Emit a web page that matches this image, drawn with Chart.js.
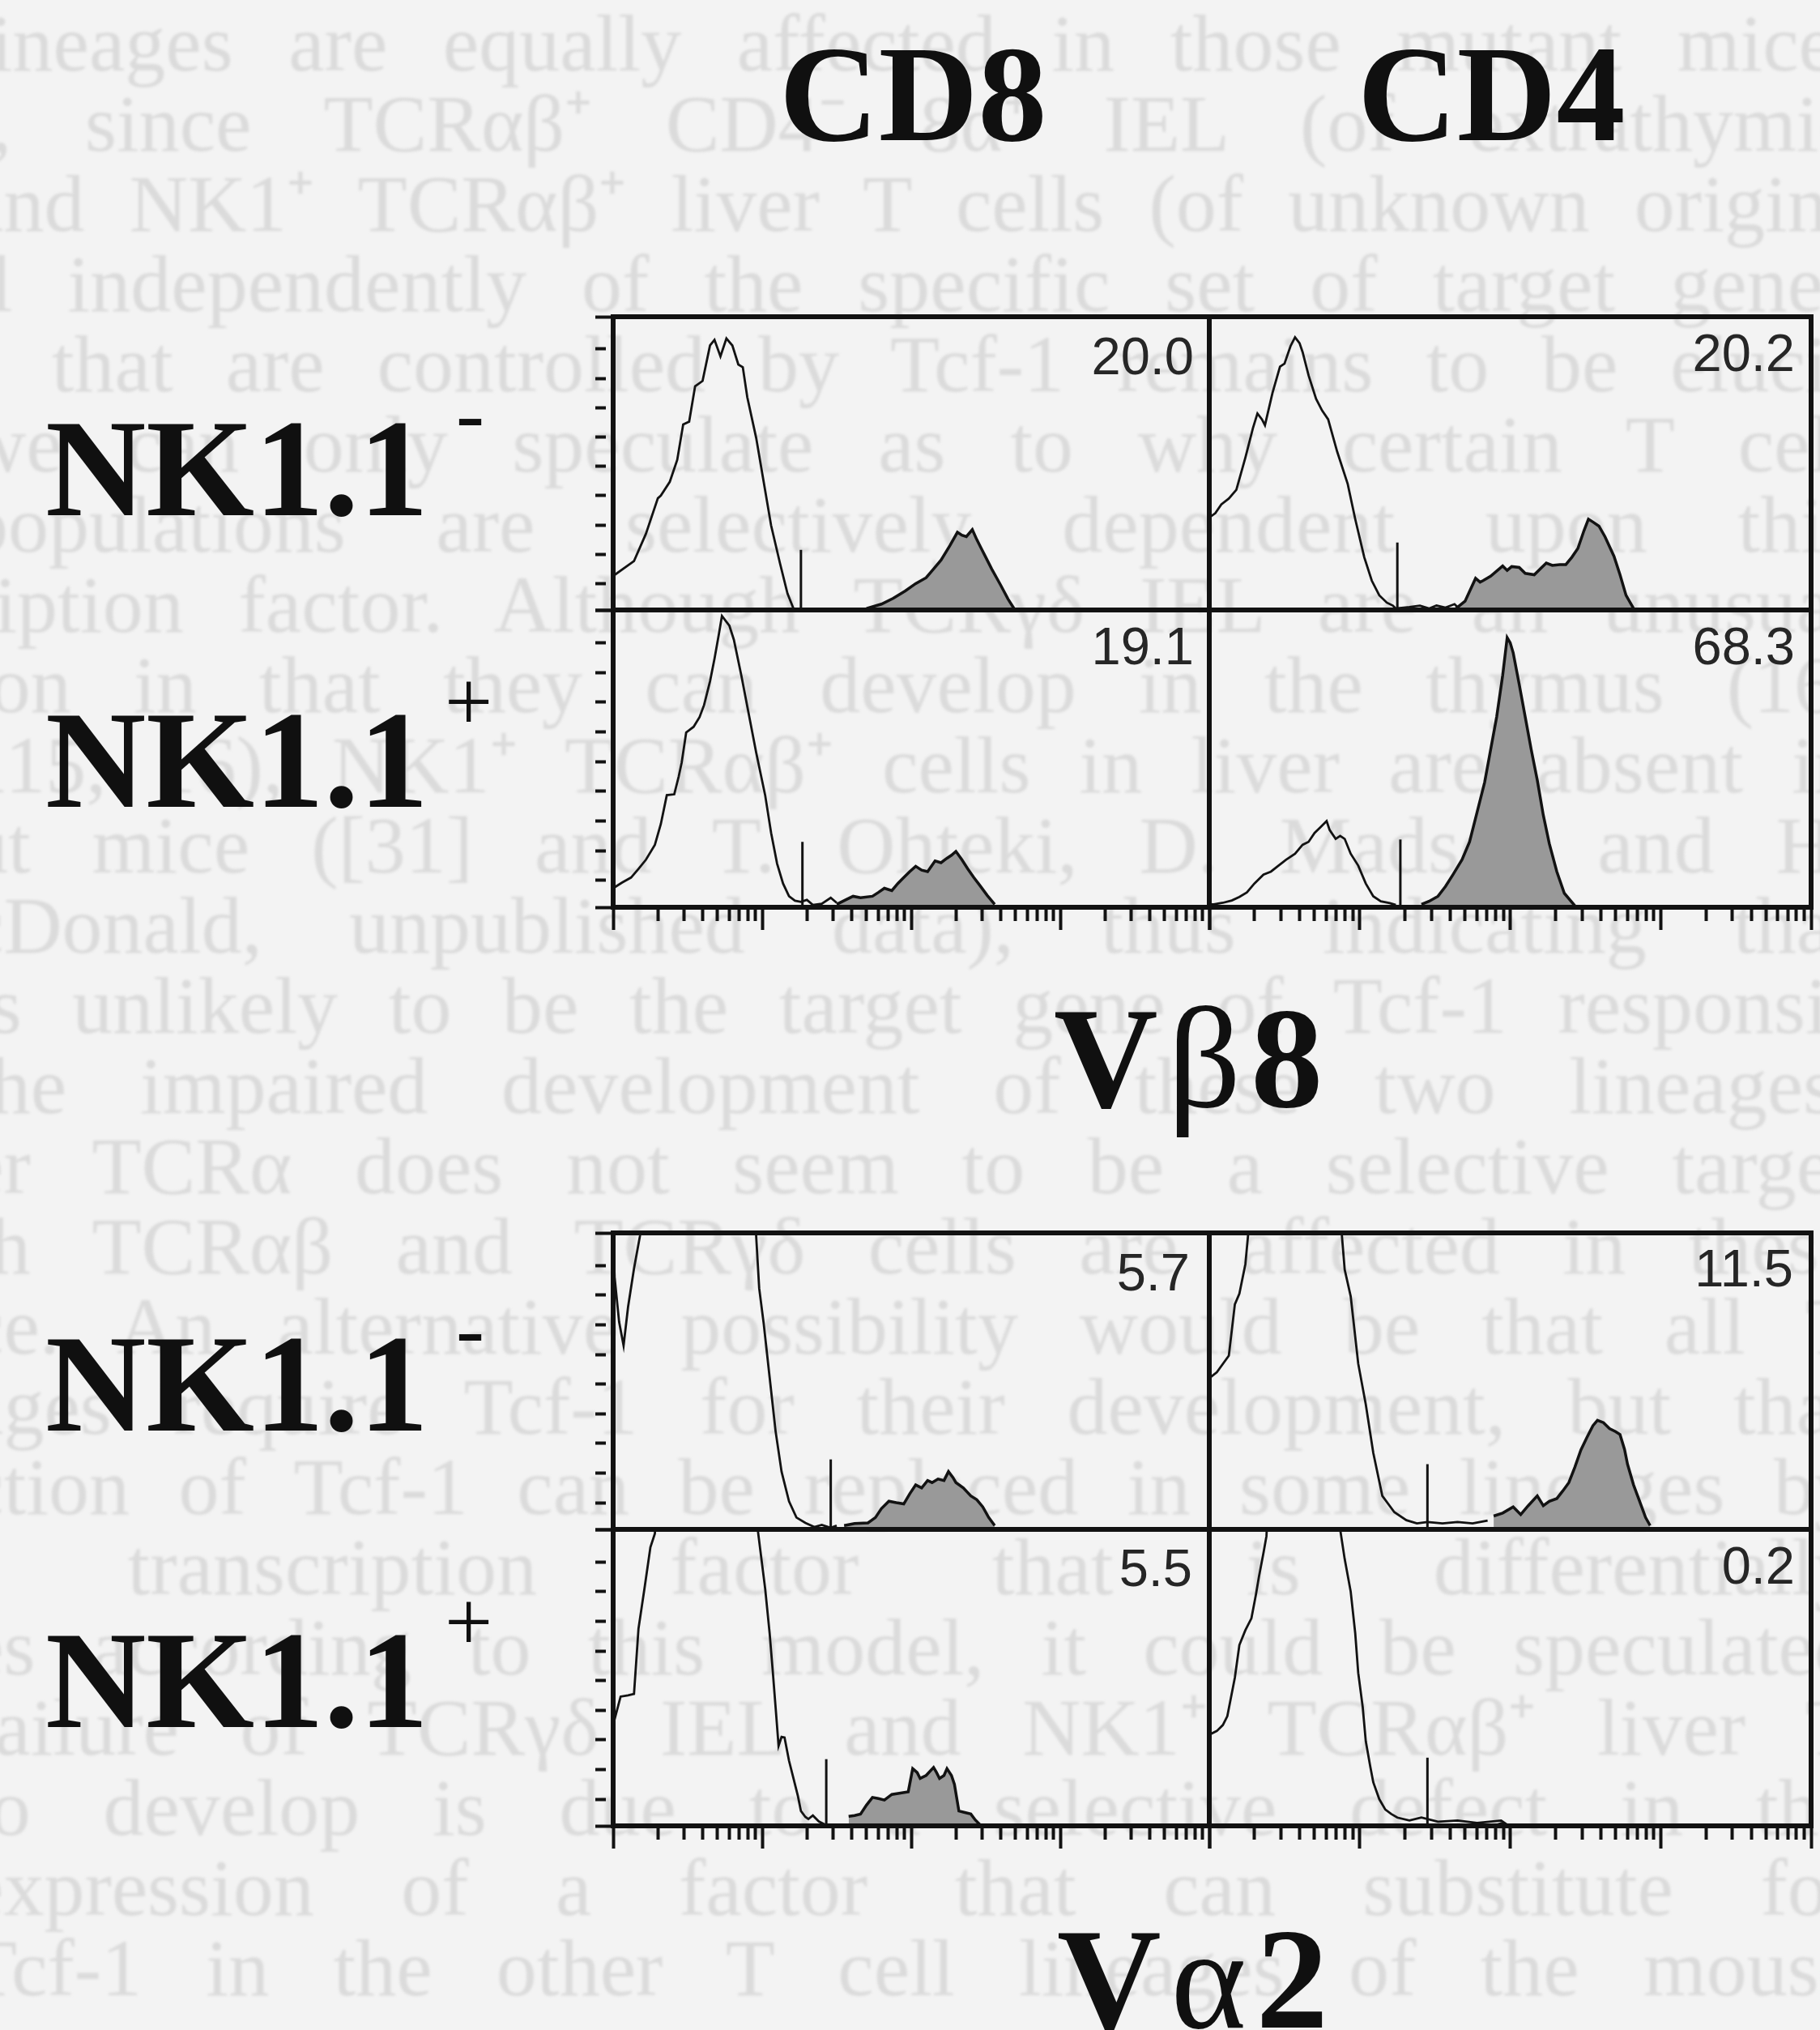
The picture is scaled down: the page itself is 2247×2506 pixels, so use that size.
<!DOCTYPE html>
<html>
<head>
<meta charset="utf-8">
<script src="https://cdn.jsdelivr.net/npm/chart.js@4.4.1/dist/chart.umd.min.js"></script>
<style>
html, body { margin: 0; padding: 0; background: #f3f3f3; }
#page { position: relative; width: 2247px; height: 2506px; overflow: hidden; background: #f3f3f3; }
#bleed { position: absolute; left: -40px; top: 4px; width: 2330px; font-family: "Liberation Serif", serif;
         font-size: 100px; line-height: 99px; color: #dbdbdb; filter: blur(1.5px); }
#bleed div { white-space: nowrap; text-align: justify; text-align-last: justify; }
canvas { position: absolute; }
.lab { position: absolute; font-family: "Liberation Serif", serif; font-weight: bold; color: #101010; white-space: nowrap; line-height: 1; }
.sup { font-weight: normal; position: relative; font-size: 105px; }
.val { position: absolute; font-family: "Liberation Sans", Arial, sans-serif; font-size: 65px; line-height: 1; color: #262626; }
</style>
</head>
<body>
<div id="page">
  <div id="bleed">
    <div>lineages are equally affected in those mutant mice.</div>
    <div>r, since TCRαβ⁺ CD4⁻ 8α⁺ IEL (of extrathymic</div>
    <div>and NK1⁺ TCRαβ⁺ liver T cells (of unknown origin)</div>
    <div>ll independently of the specific set of target genes</div>
    <div>s that are controlled by Tcf-1 remains to be eluci-</div>
    <div>we can only speculate as to why certain T cell</div>
    <div>populations are selectively dependent upon this</div>
    <div>ription factor. Although TCRγδ IEL are an unusual</div>
    <div>ion in that they can develop in the thymus (16,</div>
    <div>115, 16), NK1⁺ TCRαβ⁺ cells in liver are absent in</div>
    <div>ut mice ([31] and T. Ohteki, D. Madsen and H.</div>
    <div>cDonald, unpublished data), thus indicating that</div>
    <div>is unlikely to be the target gene of Tcf-1 responsi-</div>
    <div>the impaired development of these two lineages.</div>
    <div>er TCRα does not seem to be a selective target</div>
    <div>th TCRαβ and TCRγδ cells are affected in these</div>
    <div>ce. An alternative possibility would be that all T</div>
    <div>ages require Tcf-1 for their development, but that</div>
    <div>ction of Tcf-1 can be replaced in some lineages by</div>
    <div>r transcription factor that is differentially</div>
    <div>es according to this model, it could be speculated</div>
    <div>failure of TCRγδ IEL and NK1⁺ TCRαβ⁺ liver T</div>
    <div>to develop is due to a selective defect in the</div>
    <div>expression of a factor that can substitute for</div>
    <div>Tcf-1 in the other T cell lineages of the mouse</div>
  </div>

  <div class="lab" style="left:962px;top:31px;font-size:170px;">CD8</div>
  <div class="lab" style="left:1676px;top:31px;font-size:170px;">CD4</div>

  <div class="lab" style="left:56px;top:492px;font-size:172px;">NK1.1<span class="sup" style="top:-90px;margin-left:34px;">-</span></div>
  <div class="lab" style="left:56px;top:852px;font-size:172px;">NK1.1<span class="sup" style="top:-94px;margin-left:20px;">+</span></div>
  <div class="lab" style="left:56px;top:1622px;font-size:172px;">NK1.1<span class="sup" style="top:-90px;margin-left:34px;">-</span></div>
  <div class="lab" style="left:56px;top:1988px;font-size:172px;">NK1.1<span class="sup" style="top:-94px;margin-left:20px;">+</span></div>

  <div class="lab" style="left:1301px;top:1217px;font-size:178px;letter-spacing:12px;">V<span style="font-weight:normal">β</span>8</div>
  <div class="lab" style="left:1305px;top:2354px;font-size:178px;letter-spacing:12px;">V<span style="font-weight:normal">α</span>2</div>

  <div class="val" style="right:773px;top:407px;">20.0</div>
  <div class="val" style="right:31px;top:403px;">20.2</div>
  <div class="val" style="right:773px;top:765px;">19.1</div>
  <div class="val" style="right:31px;top:765px;">68.3</div>
  <div class="val" style="right:778px;top:1538px;">5.7</div>
  <div class="val" style="right:33px;top:1533px;">11.5</div>
  <div class="val" style="right:775px;top:1903px;">5.5</div>
  <div class="val" style="right:31px;top:1900px;">0.2</div>
</div>

<script>
// x = log10 fluorescence (decades 0..4), y = % of panel height (values above 100 run off scale)

// V beta 8, CD8 gate, NK1.1-
const vb8Cd8NegOpen = [[0,11.6],[0.14,16.7],[0.22,26],[0.30,38.1],[0.32,39],[0.38,43.7],[0.43,51.2],[0.47,63.3],[0.51,64.2],[0.55,76.3],[0.60,78.1],[0.65,90.2],[0.68,92.1],[0.72,86.5],[0.76,92.6],[0.80,90.2],[0.84,83.7],[0.87,82.8],[0.90,72.6],[0.96,58.6],[1.01,43.7],[1.06,28.8],[1.12,15.8],[1.17,5.6],[1.21,0.5]];
const vb8Cd8NegFilled = [[1.70,0.5],[1.80,2],[1.88,4],[1.96,6.5],[2.03,9],[2.10,11],[2.15,14],[2.20,17],[2.26,22],[2.31,26.5],[2.34,25.5],[2.37,25],[2.41,27.4],[2.44,24],[2.47,21],[2.50,18],[2.54,14],[2.60,8.5],[2.65,3.7],[2.69,0.5]];
const vb8Cd8NegGate = [1.26, 20.5];

// V beta 8, CD4 gate, NK1.1-
const vb8Cd4NegOpen = [[0,31.5],[0.04,33],[0.08,36],[0.13,38],[0.18,41],[0.24,52],[0.29,62],[0.32,67],[0.35,65],[0.37,63],[0.42,74],[0.47,83],[0.50,84],[0.54,90],[0.57,93],[0.60,91],[0.62,88],[0.66,80],[0.71,72],[0.75,68],[0.79,65],[0.85,54],[0.92,43],[0.97,31],[1.03,18],[1.08,10],[1.13,5],[1.18,2.5],[1.22,1.5],[1.24,0.5],[1.33,1],[1.40,1.5],[1.46,0.5],[1.51,1.5],[1.57,0.8],[1.63,2],[1.66,0.5]];
const vb8Cd4NegFilled = [[1.64,0.5],[1.70,3],[1.77,10.8],[1.80,9.5],[1.82,10],[1.87,11.5],[1.95,15],[1.98,13.5],[2.01,14.8],[2.06,14.5],[2.10,12.5],[2.16,12],[2.20,14],[2.24,16],[2.28,15.2],[2.33,15.5],[2.37,15.5],[2.41,18],[2.45,21],[2.49,27],[2.52,31],[2.55,30],[2.59,28.6],[2.63,25],[2.69,18.3],[2.73,12],[2.77,5],[2.82,0.5]];
const vb8Cd4NegGate = [1.25, 23];

// V beta 8, CD8 gate, NK1.1+
const vb8Cd8PosOpen = [[0,6.4],[0.06,8.3],[0.12,10],[0.17,12.9],[0.22,16],[0.28,21],[0.32,28],[0.36,37.7],[0.41,38],[0.44,44],[0.46,48.7],[0.49,58.8],[0.54,60.7],[0.58,64],[0.61,68],[0.65,76],[0.68,83.6],[0.71,92],[0.73,98],[0.76,96],[0.78,94.7],[0.81,90],[0.86,78],[0.91,65],[0.96,52],[1.02,37.7],[1.06,25],[1.10,14.7],[1.14,8],[1.18,3.7],[1.22,2.2],[1.26,1.8],[1.30,2.5],[1.34,0.8],[1.40,1.2],[1.46,3.2],[1.50,1.5]];
const vb8Cd8PosFilled = [[1.50,1],[1.56,2.5],[1.61,3.7],[1.66,3.2],[1.74,3.7],[1.78,5],[1.82,6.4],[1.87,5.6],[1.91,8],[1.95,10],[1.99,12],[2.03,13.8],[2.07,12.5],[2.11,12],[2.16,15.6],[2.20,15],[2.24,16.5],[2.27,17.5],[2.30,18.8],[2.34,16],[2.38,12.9],[2.42,10],[2.46,7.4],[2.51,4],[2.56,1]];
const vb8Cd8PosGate = [1.27, 22];

// V beta 8, CD4 gate, NK1.1+
const vb8Cd4PosOpen = [[0,1],[0.03,1],[0.09,1.5],[0.15,2.3],[0.20,3.5],[0.25,5],[0.30,8],[0.36,11],[0.41,12],[0.46,14],[0.51,16],[0.57,18],[0.62,21],[0.66,22],[0.70,25],[0.74,27],[0.78,29],[0.80,26],[0.84,23],[0.87,24],[0.90,23],[0.94,18],[0.99,14],[1.04,8],[1.09,3.7],[1.14,2],[1.20,1.4],[1.24,0.8]];
const vb8Cd4PosFilled = [[1.41,1],[1.46,2],[1.52,3.7],[1.57,7],[1.62,11],[1.68,16],[1.73,22],[1.78,32],[1.83,42],[1.87,53],[1.91,64],[1.95,78],[1.98,90.7],[2.00,89],[2.02,85.6],[2.06,75],[2.10,64],[2.14,53],[2.18,42.8],[2.22,31],[2.26,21.4],[2.31,12],[2.36,4.7],[2.43,0.5]];
const vb8Cd4PosGate = [1.27, 22.8];

// V alpha 2, CD8 gate, NK1.1-
const va2Cd8NegOpen = [[0,100],[0.01,85],[0.04,70],[0.07,62],[0.10,75],[0.14,88],[0.18,99],[0.20,120],[0.40,250],[0.70,260],[0.93,130],[0.96,98.6],[0.98,81.3],[1.01,69.5],[1.05,51.3],[1.09,33.1],[1.13,19.5],[1.18,9.5],[1.23,4],[1.29,2.2],[1.35,0.8],[1.40,1.5],[1.46,0.5],[1.50,1.3]];
const va2Cd8NegFilled = [[1.55,1.3],[1.62,2],[1.71,2.2],[1.76,4],[1.80,7],[1.85,9.5],[1.90,9],[1.95,8.6],[1.99,12],[2.03,15],[2.07,14],[2.11,16.5],[2.14,15.8],[2.18,17],[2.22,16.5],[2.25,19.5],[2.28,17.5],[2.30,15.8],[2.35,14],[2.40,11.3],[2.44,10],[2.48,7.6],[2.52,4],[2.56,1.3]];
const va2Cd8NegGate = [1.46, 23.6];

// V alpha 2, CD4 gate, NK1.1-
const va2Cd4NegOpen = [[0,50],[0.01,51.4],[0.05,53],[0.13,58.6],[0.17,75.9],[0.20,79.5],[0.24,89.5],[0.26,100.4],[0.40,250],[0.65,260],[0.85,130],[0.88,100],[0.90,87.6],[0.94,78.6],[0.99,55.9],[1.04,42.2],[1.09,25.8],[1.15,11.3],[1.23,5.8],[1.31,3.1],[1.38,2],[1.45,2.5],[1.55,2],[1.65,2.5],[1.75,2],[1.85,3]];
const va2Cd4NegFilled = [[1.89,4.5],[1.95,5.5],[2.02,7.6],[2.07,5],[2.12,8],[2.18,11.3],[2.22,8],[2.26,9.5],[2.31,10.4],[2.35,13],[2.39,15.8],[2.43,21],[2.47,26.8],[2.51,31],[2.55,35],[2.58,36.8],[2.62,36],[2.66,34],[2.70,33],[2.73,32],[2.76,27],[2.78,22],[2.82,15],[2.86,9.5],[2.90,4],[2.93,1.3]];
const va2Cd4NegGate = [1.45, 22];

// V alpha 2, CD8 gate, NK1.1+
const va2Cd8PosOpen = [[0,36],[0.01,36],[0.05,43.6],[0.10,44],[0.14,44.5],[0.17,66.5],[0.21,80],[0.25,94],[0.28,98.6],[0.32,130],[0.50,260],[0.80,260],[0.95,120],[0.97,100],[1.00,88],[1.02,80],[1.05,65],[1.07,52.8],[1.09,40],[1.11,27],[1.13,30],[1.15,29.8],[1.18,22],[1.21,16],[1.24,10],[1.26,5],[1.29,3],[1.31,2.3],[1.34,3.5],[1.38,1.5],[1.42,0.5]];
const va2Cd8PosFilled = [[1.58,3.2],[1.62,3.5],[1.66,4],[1.70,7],[1.74,9.6],[1.78,9.2],[1.82,8.7],[1.87,10.6],[1.92,11],[1.98,11.5],[2.01,19.3],[2.04,18],[2.06,16],[2.10,17],[2.15,19.7],[2.17,18],[2.19,16],[2.22,17],[2.24,19.3],[2.27,17],[2.29,14],[2.32,5],[2.36,4.5],[2.40,4],[2.43,2],[2.46,0.5]];
const va2Cd8PosGate = [1.43, 22.5];

// V alpha 2, CD4 gate, NK1.1+
const va2Cd4PosOpen = [[0,31],[0.01,31],[0.05,32],[0.09,34],[0.12,37],[0.17,50],[0.20,61],[0.24,66],[0.28,70],[0.31,78],[0.33,84],[0.36,92],[0.38,97.7],[0.42,140],[0.60,260],[0.82,150],[0.87,100],[0.90,90],[0.94,79],[0.97,65],[0.99,51.6],[1.02,40],[1.04,28.6],[1.07,20],[1.09,14.7],[1.13,9],[1.17,5.5],[1.21,4],[1.25,2.8],[1.33,1.8],[1.41,2.8],[1.52,1.4],[1.65,1.8],[1.78,1],[1.94,1.8],[1.99,0]];
const va2Cd4PosFilled = [[1.90,0],[1.94,0.8],[1.98,0]];
const va2Cd4PosGate = [1.45, 23];

// axis ticks: log decades 1..9 x 10^n, and y ticks down the left side
const xTickValues = [];
for (let d = 0; d < 4; d++) {
    for (let k = 1; k <= 9; k++) xTickValues.push(d + Math.log10(k));
}
xTickValues.push(4);
const yTickValues = [0, 9, 19, 29, 39, 49, 59, 69, 79, 89, 100];

const INK = '#121212';
const PAD = 40;

const panels = [
    { rect: [757, 391, 1493, 753],   open: vb8Cd8NegOpen, filled: vb8Cd8NegFilled, gate: vb8Cd8NegGate, yTicks: true,  xTicks: false },
    { rect: [1493, 391, 2236, 753],  open: vb8Cd4NegOpen, filled: vb8Cd4NegFilled, gate: vb8Cd4NegGate, yTicks: false, xTicks: false },
    { rect: [757, 753, 1493, 1120],  open: vb8Cd8PosOpen, filled: vb8Cd8PosFilled, gate: vb8Cd8PosGate, yTicks: true,  xTicks: true },
    { rect: [1493, 753, 2236, 1120], open: vb8Cd4PosOpen, filled: vb8Cd4PosFilled, gate: vb8Cd4PosGate, yTicks: false, xTicks: true },
    { rect: [757, 1522, 1493, 1888],  open: va2Cd8NegOpen, filled: va2Cd8NegFilled, gate: va2Cd8NegGate, yTicks: true,  xTicks: false },
    { rect: [1493, 1522, 2236, 1888], open: va2Cd4NegOpen, filled: va2Cd4NegFilled, gate: va2Cd4NegGate, yTicks: false, xTicks: false },
    { rect: [757, 1888, 1493, 2254],  open: va2Cd8PosOpen, filled: va2Cd8PosFilled, gate: va2Cd8PosGate, yTicks: true,  xTicks: true },
    { rect: [1493, 1888, 2236, 2254], open: va2Cd4PosOpen, filled: va2Cd4PosFilled, gate: va2Cd4PosGate, yTicks: false, xTicks: true }
];

const framePlugin = {
    id: 'frame',
    afterDraw(chart) {
        const a = chart.chartArea;
        const ctx = chart.ctx;
        ctx.save();
        ctx.strokeStyle = INK;
        ctx.lineWidth = 6;
        ctx.strokeRect(a.left, a.top, a.right - a.left, a.bottom - a.top);
        ctx.restore();
    }
};

function toPoints(pairs) {
    return pairs.map(p => ({ x: p[0], y: p[1] }));
}

const page = document.getElementById('page');

panels.forEach(function (p) {
    const [l, t, r, b] = p.rect;
    const canvas = document.createElement('canvas');
    canvas.width = (r - l) + 2 * PAD;
    canvas.height = (b - t) + 2 * PAD;
    canvas.style.left = (l - PAD) + 'px';
    canvas.style.top = (t - PAD) + 'px';
    page.appendChild(canvas);

    new Chart(canvas.getContext('2d'), {
        type: 'line',
        data: {
            datasets: [
                {
                    label: 'gated',
                    data: toPoints(p.filled),
                    borderColor: INK,
                    borderWidth: 3.5,
                    backgroundColor: '#999999',
                    fill: 'origin',
                    pointRadius: 0,
                    tension: 0
                },
                {
                    label: 'total',
                    data: toPoints(p.open),
                    borderColor: INK,
                    borderWidth: 2.8,
                    fill: false,
                    pointRadius: 0,
                    tension: 0
                },
                {
                    label: 'marker',
                    data: [{ x: p.gate[0], y: 0 }, { x: p.gate[0], y: p.gate[1] }],
                    borderColor: INK,
                    borderWidth: 3,
                    fill: false,
                    pointRadius: 0
                }
            ]
        },
        options: {
            responsive: false,
            animation: false,
            devicePixelRatio: 1,
            events: [],
            layout: { padding: { left: PAD - 24, right: PAD, top: PAD, bottom: PAD - 30 } },
            plugins: { legend: { display: false }, tooltip: { enabled: false } },
            scales: {
                x: {
                    type: 'linear',
                    min: 0,
                    max: 4,
                    afterBuildTicks: s => { s.ticks = xTickValues.map(v => ({ value: v })); },
                    afterFit: s => { s.height = 30; },
                    ticks: { display: false },
                    border: { display: false },
                    grid: {
                        drawOnChartArea: false,
                        drawTicks: p.xTicks,
                        tickLength: 28,
                        tickWidth: 4,
                        tickColor: INK,
                        tickBorderDash: ctx => (Math.abs(ctx.tick.value - Math.round(ctx.tick.value)) < 1e-6 ? [] : [17, 80])
                    }
                },
                y: {
                    type: 'linear',
                    min: 0,
                    max: 100,
                    afterBuildTicks: s => { s.ticks = yTickValues.map(v => ({ value: v })); },
                    afterFit: s => { s.width = 24; },
                    ticks: { display: false },
                    border: { display: false },
                    grid: {
                        drawOnChartArea: false,
                        drawTicks: p.yTicks,
                        tickLength: 22,
                        tickWidth: 4,
                        tickColor: INK,
                        tickBorderDash: ctx => ((ctx.tick.value === 0 || ctx.tick.value === 100) ? [] : [13, 80])
                    }
                }
            }
        },
        plugins: [framePlugin]
    });
});
</script>
</body>
</html>
